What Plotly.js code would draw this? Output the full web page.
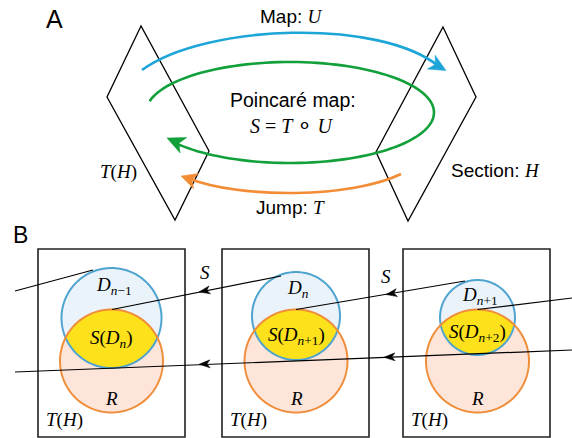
<!DOCTYPE html>
<html><head><meta charset="utf-8">
<script src="https://cdn.plot.ly/plotly-3.0.1.min.js"></script>
<style>html,body{margin:0;padding:0;background:#fff}</style>
</head><body><div id="chart" style="width:572px;height:438px"></div>
<script>
// ---- text content ----
const panelLabels = ['A', 'B'];
const mapLabels = ['Map: ', 'Poincaré map:', 'Jump: ', 'Section: '];
const mapSymbols = ['U', 'T', 'H'];
const boxLabels = ['T(H)', 'T(H)', 'T(H)'];
const discLabels = ['<i>D</i><sub><i>n</i>−1</sub>', '<i>D</i><sub><i>n</i></sub>', '<i>D</i><sub><i>n</i>+1</sub>'];
const imageLabels = ['<i>S</i>(<i>D</i><sub><i>n</i></sub>)', '<i>S</i>(<i>D</i><sub><i>n</i>+1</sub>)', '<i>S</i>(<i>D</i><sub><i>n</i>+2</sub>)'];
const remainderLabel = 'R';
const stepLabel = 'S';

// ---- geometry ----
const boxLeft = [38, 222, 403];
const boxWidth = 147;
const boxTop = 249, boxBottom = 437;
const discCx = [111.5, 296, 477.5];
const discCy = [318, 316, 317.5];
const discR = [50, 44, 37.5];
const remCy = 361, remR = 51.5;

const SERIF = 'Liberation Serif, Times New Roman, serif';
const SANS = 'Liberation Sans, Arial, sans-serif';
const BLUE = '#1ea5d8', GREEN = '#12a03a', ORANGE = '#f28c35';
const CBLUE = '#4fa3cf', CORANGE = '#ef8e3b';

const shapes = [];
const annotations = [];

function poly(pts, close) {
  return pts.map((p, i) => (i ? 'L' : 'M') + p[0].toFixed(2) + ',' + p[1].toFixed(2)).join(' ') + (close ? ' Z' : '');
}
function head(tip, dir, L, W, color) {
  const n = Math.hypot(dir[0], dir[1]); const dx = dir[0] / n, dy = dir[1] / n;
  const px = -dy, py = dx;
  const bx = tip[0] - L * dx, by = tip[1] - L * dy;
  const p1 = [bx + W * px, by + W * py], p2 = [bx - W * px, by - W * py];
  const nt = [tip[0] - 0.72 * L * dx, tip[1] - 0.72 * L * dy];
  shapes.push({type: 'path', xref: 'x', yref: 'y', path: poly([tip, p1, nt, p2], true),
    fillcolor: color, line: {color: color, width: 0.5}});
}
function line(path, color, width) {
  shapes.push({type: 'path', xref: 'x', yref: 'y', path: path, line: {color: color, width: width}});
}
function txt(x, y, text, family, size, extra) {
  annotations.push(Object.assign({x: x, y: y, xref: 'x', yref: 'y', text: text, showarrow: false,
    xanchor: 'center', yanchor: 'middle', font: {family: family, size: size, color: '#000'}}, extra || {}));
}
function serifSym(s) {
  return '<span style="font-family:Liberation Serif"><i>' + s + '</i></span>';
}

// ---- Panel A ----
line('M141,26 L107,97 L175,220 L209,151 Z', '#000', 1.3);
line('M443,27 L476,97 L408,221 L376,152 Z', '#000', 1.3);

// blue map arc
line('M142,70 C205,24 380,18 439,66.5', BLUE, 2.6);
head([446, 70.5], [15.4, 8.7], 17, 8, BLUE);

// green ellipse
(function () {
  const cx = 290, cy = 112.5, rx = 144, ry = 50.5;
  const pts = [];
  const t0 = 193 * Math.PI / 180, t1 = 503 * Math.PI / 180;
  for (let i = 0; i <= 120; i++) {
    const t = t0 + (t1 - t0) * i / 120;
    pts.push([cx + rx * Math.cos(t), cy + ry * Math.sin(t)]);
  }
  line(poly(pts, false), GREEN, 2.6);
})();
head([167, 138], [-16, -7], 18, 8.5, GREEN);

// orange jump arc
line('M401,174 C352,198 240,199 189,178.5', ORANGE, 2.6);
head([181, 176], [-13.5, -4.5], 16, 8, ORANGE);

txt(54, 19, panelLabels[0], SANS, 25);
txt(291, 16, mapLabels[0] + serifSym(mapSymbols[0]), SANS, 19);
txt(293, 100, mapLabels[1], SANS, 19.5);
txt(291, 125, '<i>S</i> = <i>T</i> <span style="font-size:24px">∘</span> <i>U</i>', SERIF, 20);
txt(118, 172, '<i>T</i>(<i>H</i>)', SERIF, 19);
txt(495, 170, mapLabels[3] + serifSym(mapSymbols[2]), SANS, 19);
txt(290, 207, mapLabels[2] + serifSym(mapSymbols[1]), SANS, 19);

// ---- Panel B ----
txt(20, 235, panelLabels[1], SANS, 23);

function circ(cx, cy, r) {
  const pts = [];
  for (let i = 0; i <= 144; i++) { const t = 2 * Math.PI * i / 144; pts.push([cx + r * Math.cos(t), cy + r * Math.sin(t)]); }
  return poly(pts, true);
}

for (let k = 0; k < 3; k++) {
  const cx = discCx[k], cb = discCy[k], rb = discR[k];
  shapes.push({type: 'rect', xref: 'x', yref: 'y', x0: boxLeft[k], x1: boxLeft[k] + boxWidth, y0: boxTop, y1: boxBottom,
    line: {color: '#222', width: 1.6}, fillcolor: 'rgba(0,0,0,0)'});
  shapes.push({type: 'path', xref: 'x', yref: 'y', path: circ(cx, cb, rb), fillcolor: '#eaf2fa', line: {width: 0}});
  shapes.push({type: 'path', xref: 'x', yref: 'y', path: circ(cx, remCy, remR), fillcolor: '#fde5da', line: {width: 0}});
  // lens
  const d = remCy - cb;
  const a = (d * d + rb * rb - remR * remR) / (2 * d);
  const h = Math.sqrt(rb * rb - a * a);
  const yi = cb + a;
  const pts = [];
  const oL = Math.atan2(yi - remCy, -h), oR = Math.atan2(yi - remCy, h);
  for (let i = 0; i <= 60; i++) { const t = oL + (oR - oL) * i / 60; pts.push([cx + remR * Math.cos(t), remCy + remR * Math.sin(t)]); }
  const bR = Math.atan2(a, h), bL = Math.atan2(a, -h);
  for (let i = 0; i <= 60; i++) { const t = bR + (bL - bR) * i / 60; pts.push([cx + rb * Math.cos(t), cb + rb * Math.sin(t)]); }
  shapes.push({type: 'path', xref: 'x', yref: 'y', path: poly(pts, true), fillcolor: '#fde11b', line: {width: 0}});
  shapes.push({type: 'path', xref: 'x', yref: 'y', path: circ(cx, cb, rb), line: {color: CBLUE, width: 2}});
  shapes.push({type: 'path', xref: 'x', yref: 'y', path: circ(cx, remCy, remR), line: {color: CORANGE, width: 2}});
}

// black trajectory lines
line('M15,291 L93,270', '#000', 1.2);
line('M112,309.5 L281,276', '#000', 1.2);
line('M296,309.5 L465,281', '#000', 1.2);
line('M477.5,309.5 L572,298', '#000', 1.2);
line('M15,372 L572,350', '#000', 1.2);
head([199, 292], [-169, 33.5], 11, 4, '#000');
head([386, 294.5], [-169, 28.5], 11, 4, '#000');
head([199, 364.3], [-557, 22], 11, 4, '#000');
head([384, 357.3], [-557, 22], 11, 4, '#000');

txt(205, 272, '<i>' + stepLabel + '</i>', SERIF, 19);
txt(386, 276, '<i>' + stepLabel + '</i>', SERIF, 19);

const discLabelY = [286, 289, 296];
const imageLabelY = [339, 336, 333];
for (let k = 0; k < 3; k++) {
  txt(discCx[k] + 2, discLabelY[k], discLabels[k], SERIF, 19);
  txt(discCx[k], imageLabelY[k], imageLabels[k], SERIF, 19);
  txt(discCx[k], 398, '<i>' + remainderLabel + '</i>', SERIF, 19);
  txt(boxLeft[k] + 26, 420, '<i>T</i>(<i>H</i>)', SERIF, 19);
}

Plotly.newPlot('chart', [], {
  width: 572, height: 438,
  margin: {l: 0, r: 0, t: 0, b: 0},
  paper_bgcolor: '#fff', plot_bgcolor: '#fff',
  xaxis: {range: [0, 572], visible: false, fixedrange: true},
  yaxis: {range: [438, 0], visible: false, fixedrange: true},
  showlegend: false,
  shapes: shapes,
  annotations: annotations
}, {staticPlot: true});
</script>
</body></html>
